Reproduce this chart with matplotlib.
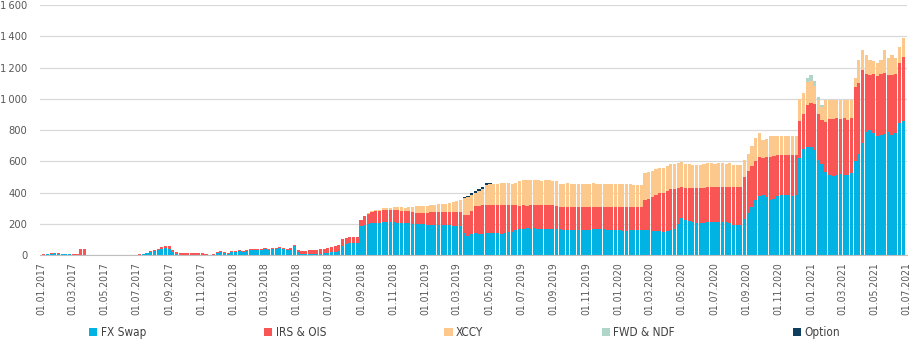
import numpy as np
import pandas as pd
import matplotlib
matplotlib.use("Agg")
import matplotlib.pyplot as plt
import matplotlib.dates as mdates
from matplotlib.ticker import FuncFormatter, MultipleLocator

plt.rcParams['font.family'] = ['DejaVu Sans']
plt.rcParams['font.stretch'] = 'condensed'

# weekly volumes, 06.01.2017 .. 25.06.2021
weeks = pd.date_range('2017-01-06', periods=234, freq='7D')

fx_swap = [
    3, 5, 8, 12, 10, 8, 6, 4, 3, 2,
    0, 0, 0, 0, 1, 1, 0, 0, 0, 0,
    0, 0, 0, 0, 0, 0, 2, 5, 12, 18,
    25, 30, 38, 45, 42, 20, 5, 0, 0, 0,
    0, 0, 0, 0, 0, 0, 2, 15, 22, 12,
    10, 18, 20, 25, 22, 28, 30, 32, 30, 35,
    38, 34, 40, 42, 48, 38, 30, 35, 55, 20,
    8, 6, 5, 8, 10, 10, 12, 15, 18, 20,
    25, 60, 70, 75, 78, 80, 185, 195, 200, 205,
    205, 208, 210, 210, 210, 210, 208, 205, 205, 205,
    200, 200, 198, 198, 195, 195, 195, 192, 192, 190,
    190, 188, 185, 185, 140, 125, 135, 140, 135, 138,
    140, 142, 140, 140, 138, 140, 145, 150, 158, 165,
    170, 172, 170, 172, 170, 168, 168, 170, 168, 165,
    165, 162, 160, 160, 162, 160, 160, 162, 160, 165,
    168, 170, 165, 160, 160, 158, 158, 155, 155, 158,
    160, 160, 158, 158, 158, 156, 155, 152, 150, 155,
    162, 170, 200, 237, 225, 215, 210, 208, 206, 205,
    210, 212, 210, 212, 211, 210, 208, 195, 192, 192,
    230, 270, 310, 350, 380, 384, 370, 352, 360, 380,
    385, 385, 385, 380, 384, 620, 680, 690, 690, 670,
    610, 580, 530, 510, 505, 510, 520, 515, 510, 525,
    600, 650, 720, 790, 800, 780, 760, 770, 775, 790,
    770, 780, 845, 855,
]

irs_ois = [
    2, 2, 3, 3, 3, 2, 2, 2, 2, 2,
    40, 42, 3, 2, 2, 2, 3, 3, 3, 3,
    3, 3, 3, 3, 3, 3, 3, 3, 3, 5,
    5, 8, 12, 15, 15, 12, 14, 14, 13, 13,
    13, 12, 12, 12, 5, 3, 3, 4, 5, 5,
    5, 5, 5, 6, 6, 6, 6, 6, 6, 6,
    6, 6, 6, 6, 6, 6, 8, 8, 8, 12,
    20, 22, 25, 25, 25, 28, 30, 30, 32, 40,
    42, 40, 40, 38, 38, 38, 40, 55, 65, 70,
    75, 75, 78, 78, 78, 80, 80, 80, 78, 80,
    75, 72, 70, 72, 75, 78, 80, 82, 85, 85,
    85, 88, 88, 90, 115, 130, 150, 175, 180, 180,
    180, 178, 180, 180, 182, 180, 175, 170, 162, 150,
    148, 145, 148, 146, 148, 150, 150, 148, 150, 152,
    140, 143, 145, 145, 143, 145, 145, 143, 145, 140,
    137, 135, 140, 145, 145, 147, 147, 150, 150, 147,
    147, 147, 148, 194, 202, 214, 230, 243, 250, 255,
    258, 255, 230, 198, 207, 215, 218, 222, 222, 225,
    225, 223, 225, 223, 224, 225, 227, 240, 243, 243,
    270, 270, 260, 250, 247, 237, 255, 278, 275, 260,
    255, 255, 255, 260, 256, 240, 220, 270, 285, 300,
    290, 284, 320, 360, 365, 370, 350, 365, 354, 355,
    475, 450, 464, 370, 350, 380, 385, 390, 390, 360,
    380, 380, 385, 412,
]

xccy = [0] * 85 + [
    0, 0, 2, 3, 5,
    6, 8, 12, 15, 15, 18, 18, 20, 20, 22,
    35, 40, 45, 45, 45, 45, 48, 50, 52, 55,
    60, 65, 70, 75, 110, 115, 100, 85, 95, 105,
    130, 135, 135, 138, 140, 140, 140, 138, 140, 160,
    162, 163, 160, 162, 160, 158, 160, 162, 157, 155,
    152, 148, 155, 150, 148, 153, 150, 147, 150, 155,
    150, 148, 152, 150, 147, 150, 153, 148, 150, 152,
    141, 140, 142, 173, 170, 170, 163, 160, 160, 160,
    160, 160, 160, 160, 153, 150, 148, 148, 147, 150,
    152, 156, 150, 155, 154, 150, 156, 140, 140, 140,
    108, 110, 130, 150, 152, 115, 120, 130, 127, 122,
    122, 125, 120, 122, 124, 136, 140, 150, 140, 110,
    95, 85, 140, 120, 120, 110, 120, 112, 130, 112,
    60, 150, 128, 120, 100, 80, 85, 90, 147, 110,
    130, 100, 100, 122,
]

fwd_ndf = [0] * 207 + [25, 40, 35, 20, 10] + [0] * 22

option = [0] * 113 + [5, 8, 8, 10, 10, 12, 12, 10, 8] + [0] * 112

series = [
    ('FX Swap', fx_swap, '#00B3E3'),
    ('IRS & OIS', irs_ois, '#FA5555'),
    ('XCCY', xccy, '#FCC88C'),
    ('FWD & NDF', fwd_ndf, '#AFD6C9'),
    ('Option', option, '#0F3D5E'),
]

fig = plt.figure(figsize=(9.11, 3.41), dpi=100)
ax = fig.add_axes([0.044, 0.252, 0.952, 0.733])

bottom = np.zeros(len(weeks))
for name, vals, col in series:
    vals = np.array(vals, dtype=float)
    ax.bar(weeks, vals, width=6, bottom=bottom, color=col, linewidth=0, label=name)
    bottom += vals

ax.set_ylim(0, 1600)
ax.yaxis.set_major_locator(MultipleLocator(200))
ax.yaxis.set_major_formatter(FuncFormatter(
    lambda v, p: f"{int(v):,}".replace(",", "\u2009")))
ax.set_xlim(pd.Timestamp('2016-12-30'), pd.Timestamp('2021-07-03'))
ax.xaxis.set_major_locator(mdates.MonthLocator(bymonth=[1, 3, 5, 7, 9, 11]))
ax.xaxis.set_major_formatter(mdates.DateFormatter('%d.%m.%Y'))
ax.tick_params(axis='x', rotation=90, length=0, pad=5, labelsize=7.5, colors='#595959')
ax.tick_params(axis='y', length=0, pad=9, labelsize=8, colors='#595959')

ax.grid(axis='y', color='#D9D9D9', linewidth=0.9)
ax.set_axisbelow(True)
for s in ['top', 'right', 'left']:
    ax.spines[s].set_visible(False)
ax.spines['bottom'].set_color('#BFBFBF')

fig.legend(loc='center', bbox_to_anchor=(0.51, 0.025), ncol=5, frameon=False,
           fontsize=8.5, labelcolor='#404040', handlelength=0.7, handleheight=0.7,
           handletextpad=0.3, columnspacing=10)

fig.savefig('out.png', dpi=100)
